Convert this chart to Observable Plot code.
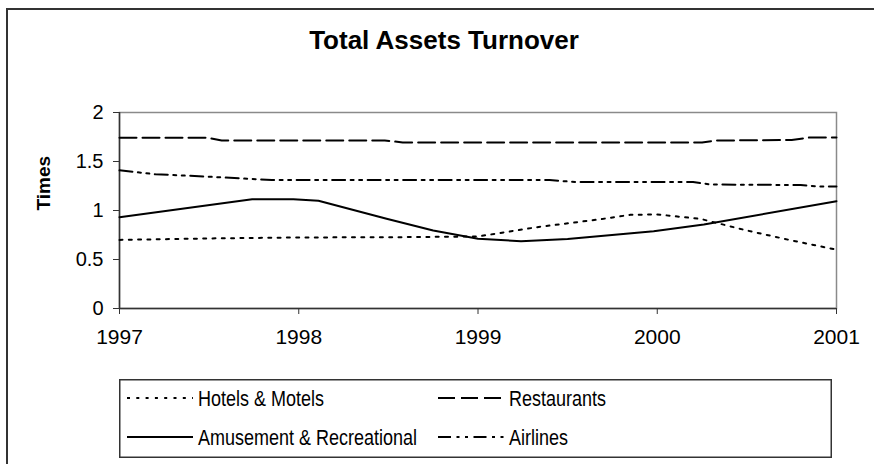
<!DOCTYPE html>
<html><head><meta charset="utf-8">
<script src="https://cdn.jsdelivr.net/npm/d3@7"></script>
<script src="https://cdn.jsdelivr.net/npm/@observablehq/plot@0.6"></script>
<style>
body{margin:0;background:#fff;font-family:"Liberation Sans",Arial,sans-serif;}
#wrap{position:relative;width:874px;height:464px;overflow:hidden;background:#fff;}
#frame{position:absolute;left:6px;top:8px;width:900px;height:500px;border:2px solid #333;box-sizing:border-box;}
#title{position:absolute;left:0;width:888px;top:23px;text-align:center;font-weight:bold;font-size:26px;line-height:34px;color:#000;}
#plot{position:absolute;left:0;top:0;}
#legend{position:absolute;left:119px;top:379px;}
</style>
</head><body>
<div id="wrap">
  <div id="frame"></div>
  <div id="title">Total Assets Turnover</div>
  <div id="plot"></div>
  <div id="legend"></div>
</div>
<script>
// ---- data ----
const years = [1997, 1998, 1999, 2000, 2001];
const yTicks = [0, 0.5, 1, 1.5, 2];
const seriesNames = ["Hotels & Motels", "Restaurants", "Amusement & Recreational", "Airlines"];

const hotelsX = [1997, 1997.5, 1998, 1998.5, 1999, 1999.33, 1999.7, 1999.85, 2000, 2000.24, 2000.5, 2000.75, 2001];
const hotelsY = [0.70, 0.715, 0.725, 0.727, 0.735, 0.83, 0.915, 0.956, 0.96, 0.915, 0.796, 0.694, 0.60];

const restX = [1997, 1997.49, 1997.57, 1998.48, 1998.58, 2000.25, 2000.33, 2000.75, 2000.85, 2001];
const restY = [1.742, 1.742, 1.715, 1.715, 1.695, 1.695, 1.714, 1.72, 1.745, 1.745];

const amuseX = [1997, 1997.74, 1997.97, 1998.11, 1998.49, 1998.75, 1999.0, 1999.24, 1999.5, 1999.98, 2000.26, 2001];
const amuseY = [0.932, 1.115, 1.115, 1.099, 0.915, 0.796, 0.711, 0.687, 0.71, 0.789, 0.857, 1.095];

const airX = [1997, 1997.2, 1997.5, 1997.85, 1999.4, 1999.55, 2000.2, 2000.3, 2000.8, 2000.9, 2001];
const airY = [1.41, 1.37, 1.345, 1.31, 1.31, 1.29, 1.29, 1.265, 1.26, 1.245, 1.245];

// ---- build table ----
const seriesXY = [[hotelsX, hotelsY], [restX, restY], [amuseX, amuseY], [airX, airY]];
const dashes = ["3,6.3", "17,6", null, "13,5.5,3,5.5,3,5.5"];
const rows = [];
seriesNames.forEach((name, s) => {
  const [xs, ys] = seriesXY[s];
  xs.forEach((x, i) => rows.push({series: name, year: x, value: ys[i]}));
});

const font = '"Liberation Sans", Arial, sans-serif';

const chart = Plot.plot({
  width: 874, height: 360,
  marginLeft: 119, marginRight: 38, marginTop: 112, marginBottom: 52,
  style: {fontFamily: font, background: "transparent", color: "#000", overflow: "visible"},
  x: {domain: [1997, 2001]},
  y: {domain: [0, 2]},
  marks: [
    Plot.frame({stroke: "#8a8a8a", strokeWidth: 1.5}),
    Plot.ruleY([0], {stroke: "#333", strokeWidth: 1.5}),
    Plot.ruleX([1997], {stroke: "#333", strokeWidth: 1.5}),
    Plot.axisX({ticks: years, tickFormat: d => String(d), tickSize: 6, tickPadding: 15, fontSize: 21, label: null, stroke: "#333"}),
    Plot.axisY({ticks: yTicks, tickFormat: d => String(d), tickSize: 6, tickPadding: 10, fontSize: 20, label: null, stroke: "#333"}),
    Plot.text(["Times"], {text: d => d, frameAnchor: "left", dx: -76, rotate: -90, fontWeight: "bold", fontSize: 19}),
    ...seriesNames.map((name, s) => Plot.line(rows.filter(r => r.series === name), {
      x: "year", y: "value", stroke: "#000", strokeWidth: 2,
      strokeDasharray: dashes[s] || undefined
    }))
  ]
});
document.getElementById("plot").appendChild(chart);

// ---- legend ----
const lw = 713, lh = 79;
const legend = d3.select("#legend").append("svg").attr("width", lw).attr("height", lh);
legend.append("rect").attr("x", 0.75).attr("y", 0.75).attr("width", lw - 1.5).attr("height", lh - 1.5)
  .attr("fill", "#fff").attr("stroke", "#333").attr("stroke-width", 1.5);
const pos = [[8, 19], [319, 19], [8, 58], [319, 58]];
seriesNames.forEach((name, s) => {
  const [px, py] = pos[s];
  legend.append("line").attr("x1", px).attr("x2", px + 66).attr("y1", py).attr("y2", py)
    .attr("stroke", "#000").attr("stroke-width", 2).attr("stroke-dasharray", dashes[s]);
  legend.append("text").attr("transform", `translate(${px + 71},${py}) scale(1,1.18)`)
    .attr("dominant-baseline", "central").attr("font-family", font).attr("font-size", 18)
    .attr("fill", "#000").text(name);
});
</script>
</body></html>
